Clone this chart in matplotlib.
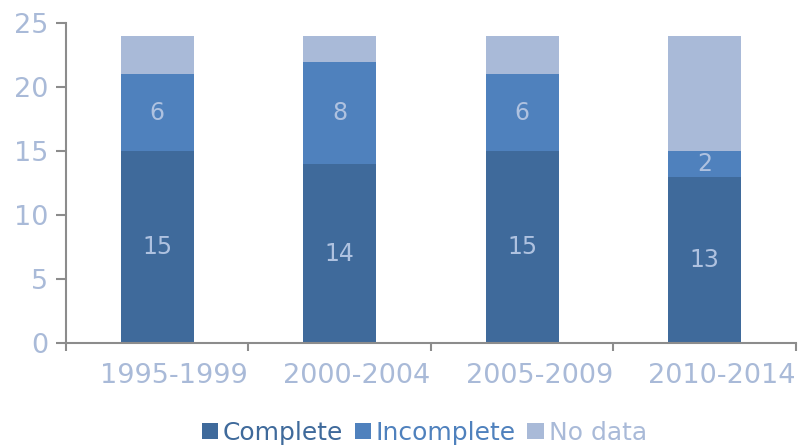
import matplotlib
matplotlib.use("Agg")
import matplotlib.pyplot as plt
import matplotlib.transforms as mtransforms
import numpy as np
from matplotlib.ticker import FixedLocator

categories = ["1995-1999", "2000-2004", "2005-2009", "2010-2014"]
complete = [15, 14, 15, 13]
incomplete = [6, 8, 6, 2]
no_data = [3, 2, 3, 9]
series_names = ["Complete", "Incomplete", "No data"]
colors = ["#3F6A9B", "#4F81BD", "#A9BAD8"]
label_color = "#AFC2E0"
tick_color = "#A9BAD8"
spine_color = "#8C8C8C"

plt.rcParams['font.family'] = ['DejaVu Sans']
fig = plt.figure(figsize=(8.02, 4.45), dpi=100)
ax = fig.add_axes([0.0823, 0.229, 0.9102, 0.719])

x = np.arange(len(categories))
w = 0.4
b1 = ax.bar(x, complete, w, color=colors[0], label=series_names[0])
b2 = ax.bar(x, incomplete, w, bottom=complete, color=colors[1], label=series_names[1])
bottom3 = np.array(complete) + np.array(incomplete)
b3 = ax.bar(x, no_data, w, bottom=bottom3, color=colors[2], label=series_names[2])

for i in range(len(categories)):
    ax.text(x[i], complete[i] / 2, str(complete[i]), ha="center", va="center",
            color=label_color, fontsize=17)
    ax.text(x[i], complete[i] + incomplete[i] / 2, str(incomplete[i]), ha="center",
            va="center", color=label_color, fontsize=17)

ax.set_xlim(-0.5, len(categories) - 0.5)
ax.set_ylim(0, 25)
ax.set_yticks([0, 5, 10, 15, 20, 25])
ax.set_xticks(x)
ax.set_xticklabels(categories)
ax.xaxis.set_minor_locator(FixedLocator(np.arange(-0.5, len(categories), 1.0)))
ax.tick_params(axis="x", which="major", length=0, pad=14, labelsize=19.5, labelcolor=tick_color)
ax.tick_params(axis="x", which="minor", length=6, width=1.5, color=spine_color, direction="out")
ax.tick_params(axis="y", length=7, width=1.5, color=spine_color, pad=6, labelsize=19.5, labelcolor=tick_color)

offset = mtransforms.ScaledTranslation(0.17, 0, fig.dpi_scale_trans)
for lbl in ax.get_xticklabels():
    lbl.set_transform(lbl.get_transform() + offset)

for s in ["top", "right"]:
    ax.spines[s].set_visible(False)
for s in ["left", "bottom"]:
    ax.spines[s].set_color(spine_color)
    ax.spines[s].set_linewidth(1.5)

leg = fig.legend(handles=[b1, b2, b3], labels=series_names, loc="lower center",
                 bbox_to_anchor=(0.529, -0.05), ncol=3, frameon=False, fontsize=18,
                 handlelength=0.65, handleheight=0.65, handletextpad=0.2, columnspacing=0.45)
for t, c in zip(leg.get_texts(), colors):
    t.set_color(c)

fig.savefig("out.png", dpi=100)
